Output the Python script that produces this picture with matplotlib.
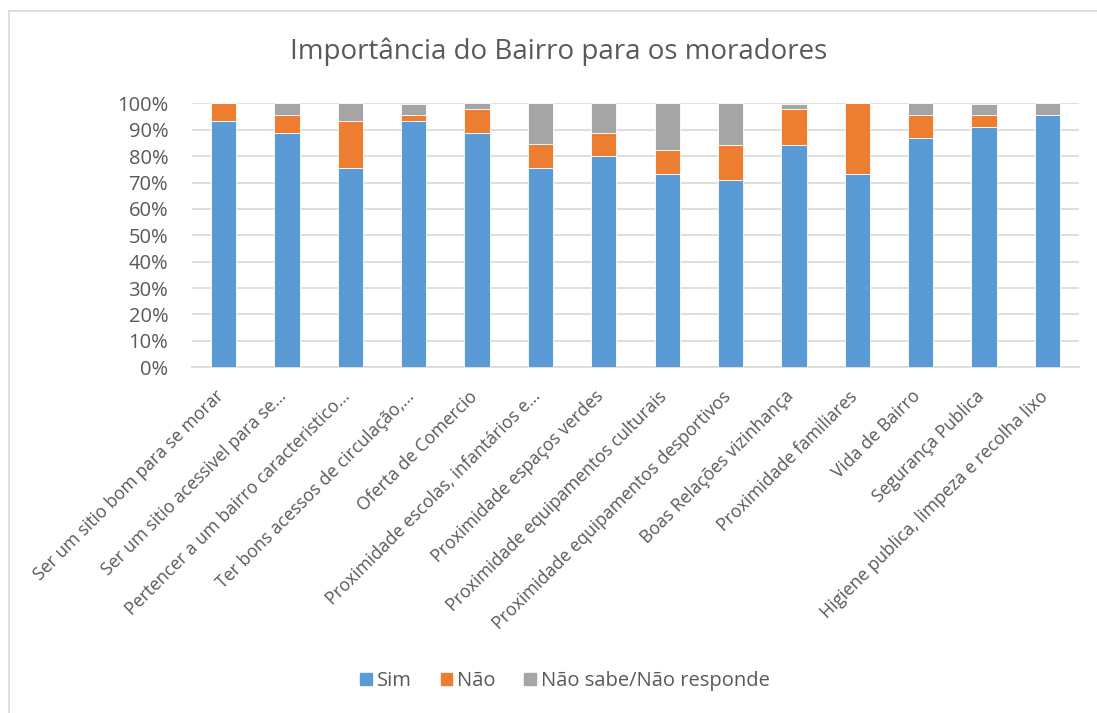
import numpy as np
import matplotlib
matplotlib.use("Agg")
import matplotlib.pyplot as plt
from matplotlib.lines import Line2D
from matplotlib.patches import Patch
from matplotlib.transforms import ScaledTranslation

categorias = [
    "Ser um sitio bom para se morar",
    "Ser um sitio acessivel para se…",
    "Pertencer a um bairro caracteristico…",
    "Ter bons acessos de circulação,…",
    "Oferta de Comercio",
    "Proximidade escolas, infantários e…",
    "Proximidade espaços verdes",
    "Proximidade equipamentos culturais",
    "Proximidade equipamentos desportivos",
    "Boas Relações vizinhança",
    "Proximidade familiares",
    "Vida de Bairro",
    "Segurança Publica",
    "Higiene publica, limpeza e recolha lixo",
]
sim = [93.3, 88.9, 75.6, 93.3, 88.9, 75.6, 80.0, 73.3, 71.1, 84.4, 73.3, 86.7, 91.1, 95.6]
nao = [6.7, 6.7, 17.8, 2.2, 8.9, 8.9, 8.9, 8.9, 13.3, 13.3, 26.7, 8.9, 4.4, 0.0]
nsnr = [0.0, 4.4, 6.7, 4.4, 2.2, 15.6, 11.1, 17.8, 15.6, 2.2, 0.0, 4.4, 4.4, 4.4]
series = ["Sim", "Não", "Não sabe/Não responde"]
cores = ["#5B9BD5", "#ED7D31", "#A5A5A5"]

plt.rcParams["font.family"] = ["Open Sans", "DejaVu Sans"]
txt = "#595959"

fig = plt.figure(figsize=(10.97, 7.13), dpi=100)
ax = fig.add_axes([0.1748, 0.4849, 0.809, 0.3701])

x = np.arange(len(categorias))
base = np.zeros(len(categorias))
for vals, nome, cor in zip([sim, nao, nsnr], series, cores):
    ax.bar(x, vals, 0.4, bottom=base, color=cor, edgecolor="white",
           linewidth=0.6, label=nome, zorder=3)
    base = base + np.array(vals)

ax.set_xlim(-0.5, len(categorias) - 0.5)
ax.set_ylim(0, 100)
ax.set_yticks(np.arange(0, 101, 10))
ax.set_yticklabels([f"{v}%" for v in range(0, 101, 10)], fontsize=14.5, color=txt)
ax.yaxis.grid(True, color="#D9D9D9", linewidth=1.2, zorder=0)
ax.tick_params(axis="both", length=0)
ax.tick_params(axis="y", pad=17)
for s in ["top", "right", "left"]:
    ax.spines[s].set_visible(False)
ax.spines["bottom"].set_color("#D9D9D9")
ax.spines["bottom"].set_linewidth(1.2)

ax.set_xticks(x)
ax.set_xticklabels(categorias, rotation=45, ha="right", rotation_mode="anchor",
                   fontsize=12.7, color=txt)
ax.tick_params(axis="x", pad=8)
# empurrar os rótulos um pouco para baixo e à esquerda
desloc = ScaledTranslation(-0.09, -0.09, fig.dpi_scale_trans)
for lbl in ax.get_xticklabels():
    lbl.set_transform(lbl.get_transform() + desloc)

fig.text(0.509, 0.928, "Importância do Bairro para os moradores", ha="center",
         va="center", fontsize=20, color=txt)

handles = [Patch(facecolor=c, edgecolor=c) for c in cores]
fig.legend(handles, series, loc="center", bbox_to_anchor=(0.515, 0.045), ncol=3,
           frameon=False, fontsize=14.5, labelcolor=txt, handlelength=0.55,
           handleheight=0.55, handletextpad=0.25, columnspacing=1.45)

# moldura do gráfico (só topo e esquerda visíveis)
fig.add_artist(Line2D([0.0085, 1.0], [0.985, 0.985], color="#D9D9D9", linewidth=1.2))
fig.add_artist(Line2D([0.0085, 0.0085], [0.0, 0.985], color="#D9D9D9", linewidth=1.2))

fig.savefig("out.png", dpi=100)
